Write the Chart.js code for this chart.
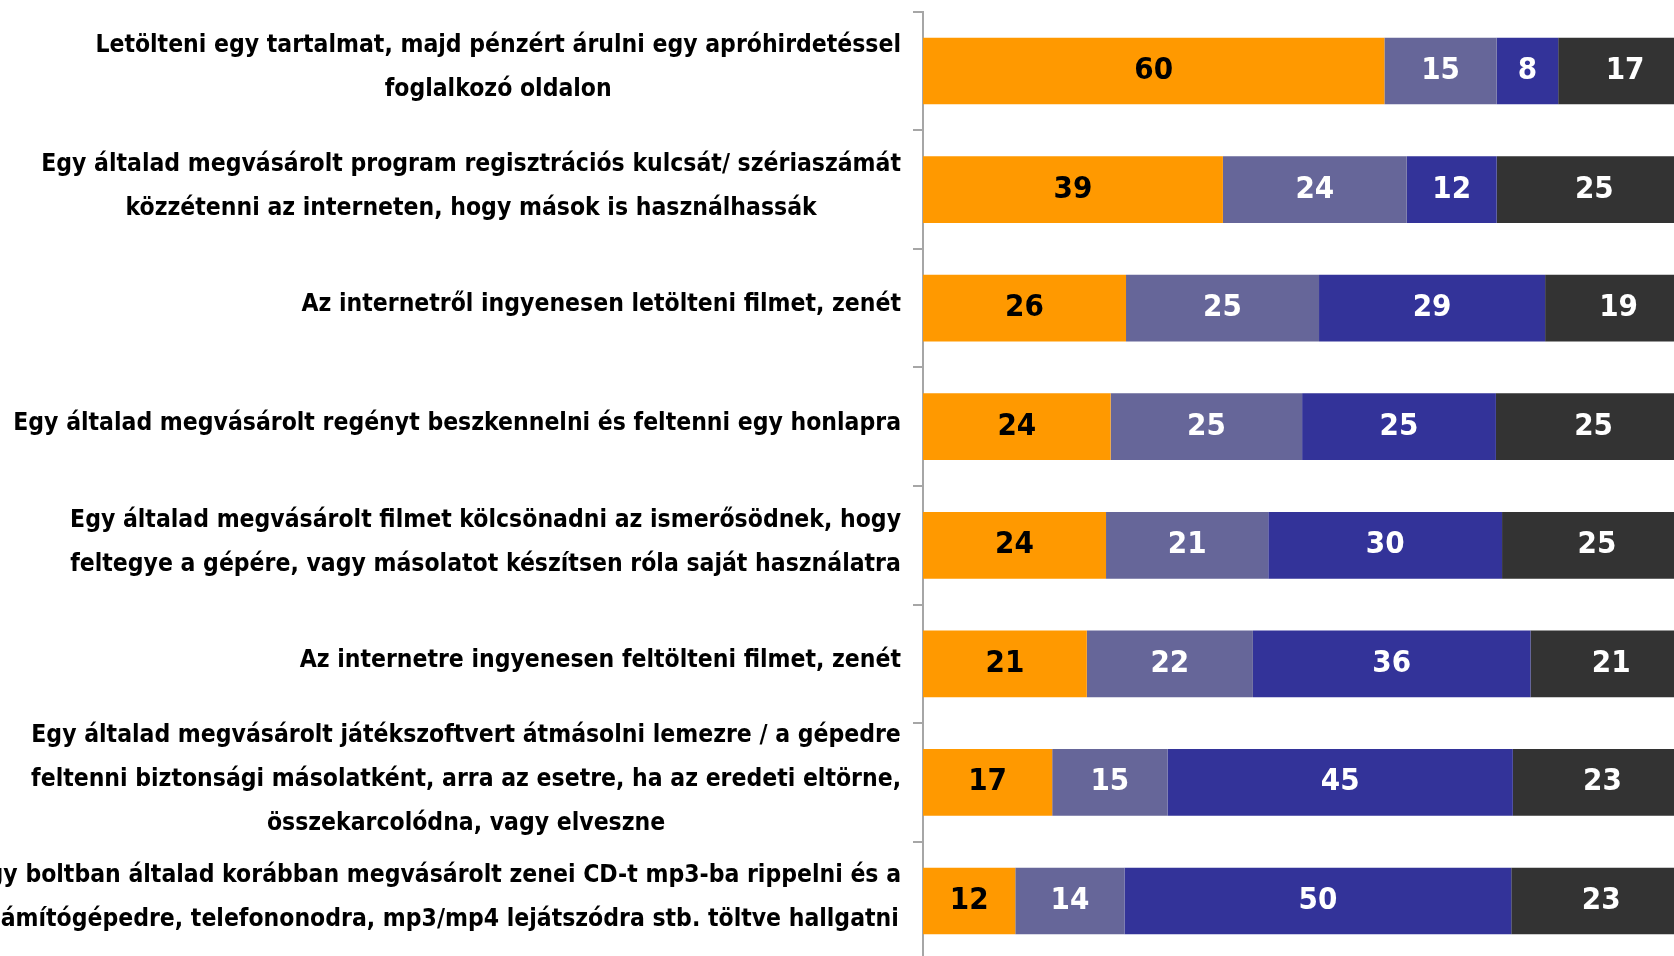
<!DOCTYPE html>
<html>
<head>
<meta charset="utf-8">
<script src="https://cdn.jsdelivr.net/npm/chart.js@4.4.1/dist/chart.umd.min.js"></script>
<style>
html, body { margin: 0; padding: 0; background: #fff; overflow: hidden; }
#wrap { position: absolute; left: 0; top: 0; width: 1692px; height: 980px; }
</style>
</head>
<body>
<div id="wrap"><canvas id="chart"></canvas></div>
<script>
// answers per statement, percent (labels show the rounded value)
var categories = [
    ['Letölteni egy tartalmat, majd pénzért árulni egy apróhirdetéssel', 'foglalkozó oldalon'],
    ['Egy általad megvásárolt program regisztrációs kulcsát/ szériaszámát', 'közzétenni az interneten, hogy mások is használhassák'],
    ['Az internetről ingyenesen letölteni filmet, zenét'],
    ['Egy általad megvásárolt regényt beszkennelni és feltenni egy honlapra'],
    ['Egy általad megvásárolt filmet kölcsönadni az ismerősödnek, hogy', 'feltegye a gépére, vagy másolatot készítsen róla saját használatra'],
    ['Az internetre ingyenesen feltölteni filmet, zenét'],
    ['Egy általad megvásárolt játékszoftvert átmásolni lemezre / a gépedre', 'feltenni biztonsági másolatként, arra az esetre, ha az eredeti eltörne,', 'összekarcolódna, vagy elveszne'],
    ['Egy boltban általad korábban megvásárolt zenei CD-t mp3-ba rippelni és a', 'számítógépedre, telefononodra, mp3/mp4 lejátszódra stb. töltve hallgatni']
];
var series1 = [60.0, 39.0, 26.4, 24.4, 23.8, 21.3, 16.8, 12.0];
var series2 = [14.6, 23.9, 25.1, 24.9, 21.1, 21.6, 15.0, 14.2];
var series3 = [8.0, 11.7, 29.4, 25.2, 30.4, 36.1, 44.9, 50.3];
var series4 = [17.4, 25.4, 19.1, 25.4, 24.7, 21.0, 23.3, 23.4];

var colors = ['#FF9900', '#666699', '#333399', '#333333'];
var valueColors = ['#000000', '#ffffff', '#ffffff', '#ffffff'];
var labelFont = 'bold 24.5px "DejaVu Sans Condensed", "DejaVu Sans", sans-serif';
var valueFont = 'bold 31px "DejaVu Sans Condensed", "DejaVu Sans", sans-serif';
var lineHeight = 44;

// category labels: block right aligned, lines centred inside the block
var sideLabels = {
    id: 'sideLabels',
    afterDraw: function(chart) {
        var ctx = chart.ctx;
        var y = chart.scales.y;
        ctx.save();
        ctx.font = labelFont;
        ctx.fillStyle = '#000';
        ctx.textAlign = 'center';
        ctx.textBaseline = 'middle';
        categories.forEach(function(lines, i) {
            var widest = Math.max.apply(null, lines.map(function(l) { return ctx.measureText(l).width; }));
            var cx = y.right - 22 - widest / 2;
            var cy = y.getPixelForValue(i) - 3;
            lines.forEach(function(l, k) {
                ctx.fillText(l, cx, cy + (k - (lines.length - 1) / 2) * lineHeight);
            });
        });
        ctx.restore();
    }
};

var barValues = {
    id: 'barValues',
    afterDatasetsDraw: function(chart) {
        var ctx = chart.ctx;
        ctx.save();
        ctx.font = valueFont;
        ctx.textAlign = 'center';
        ctx.textBaseline = 'middle';
        chart.data.datasets.forEach(function(ds, di) {
            var meta = chart.getDatasetMeta(di);
            ctx.fillStyle = valueColors[di];
            meta.data.forEach(function(bar, i) {
                ctx.fillText(Math.round(ds.data[i]), (bar.x + bar.base) / 2, bar.y);
            });
        });
        ctx.restore();
    }
};

new Chart(document.getElementById('chart'), {
    type: 'bar',
    data: {
        labels: categories,
        datasets: [series1, series2, series3, series4].map(function(d, i) {
            return {
                label: 'Sor ' + (i + 1),
                data: d,
                backgroundColor: colors[i],
                borderWidth: 0,
                barPercentage: 0.5625,
                categoryPercentage: 1
            };
        })
    },
    options: {
        indexAxis: 'y',
        responsive: true,
        maintainAspectRatio: false,
        animation: false,
        layout: { padding: { top: 11.7, bottom: 19.7, left: 0, right: 0 } },
        plugins: { legend: { display: false }, tooltip: { enabled: false } },
        scales: {
            x: { stacked: true, min: 0, max: 100, display: false },
            y: {
                stacked: true,
                offset: true,
                ticks: { display: false },
                grid: { offset: true, drawOnChartArea: false, drawTicks: true, tickLength: 10, color: '#a6a6a6', lineWidth: 2 },
                border: { display: true, color: '#a6a6a6', width: 2 },
                afterFit: function(s) { s.width = 923; }
            }
        }
    },
    plugins: [sideLabels, barValues]
});
</script>
</body>
</html>
